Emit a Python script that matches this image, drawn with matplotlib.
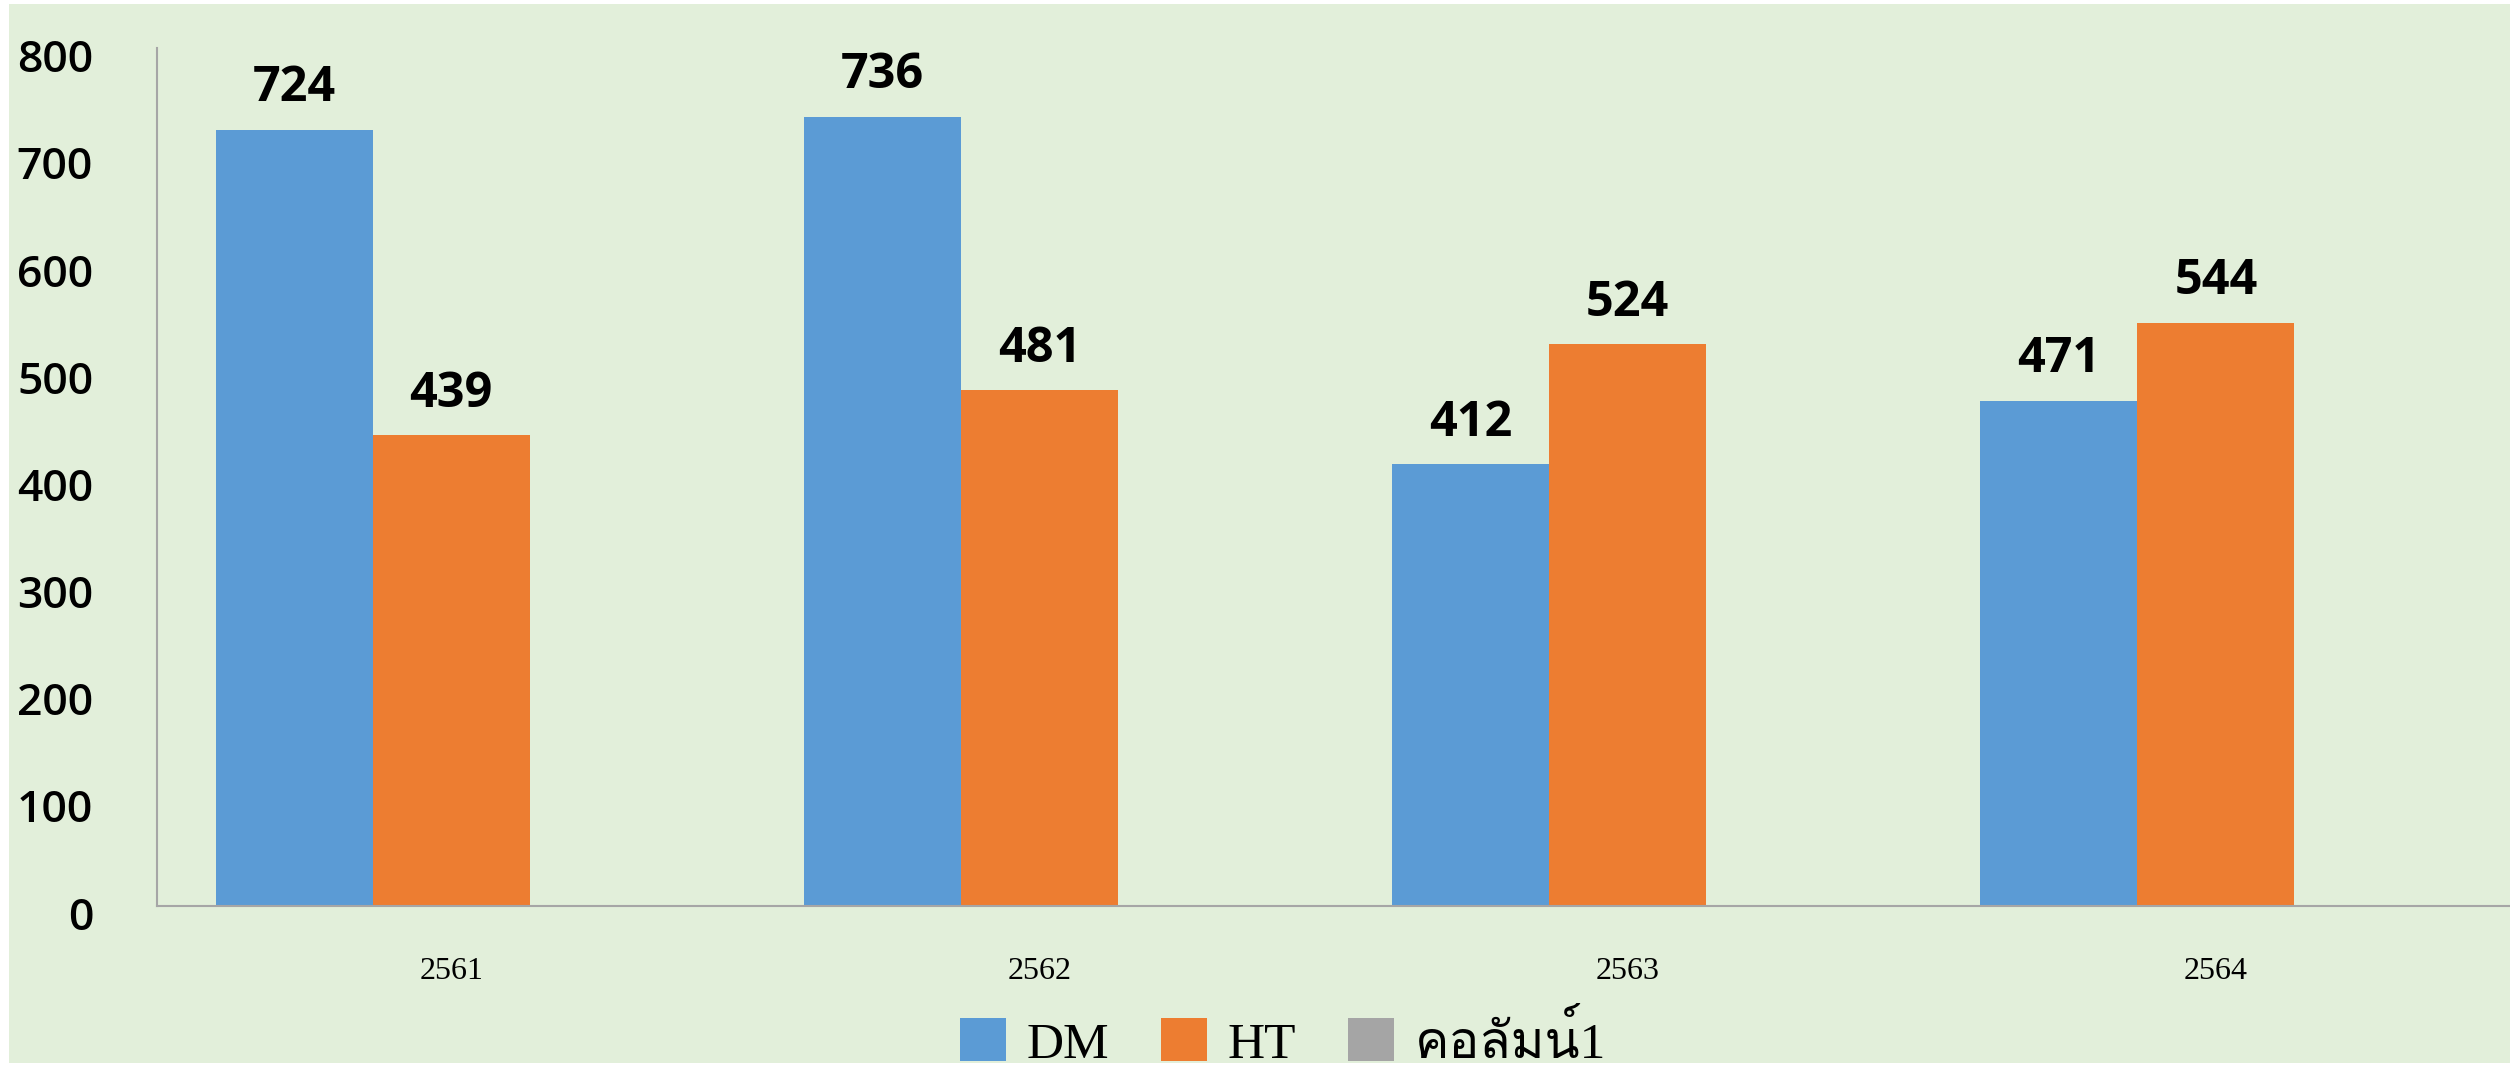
import matplotlib
matplotlib.use("Agg")
import matplotlib.pyplot as plt
from matplotlib import font_manager
from matplotlib.ft2font import FT2Font
from matplotlib.patches import Rectangle
from matplotlib.transforms import ScaledTranslation
import numpy as np

years = ["2561", "2562", "2563", "2564"]
dm = [724, 736, 412, 471]
ht = [439, 481, 524, 544]
col1 = [np.nan, np.nan, np.nan, np.nan]   # empty column in the source sheet
series_names = ["DM", "HT", "คอลัมน์1"]
yticks = [0, 100, 200, 300, 400, 500, 600, 700, 800]

# find some installed font that has Thai glyphs for the legend
thai_family = None
for f in font_manager.fontManager.ttflist:
    try:
        if 0x0E04 in FT2Font(f.fname).get_charmap():
            thai_family = f.name
            break
    except Exception:
        pass
legend_family = ["Liberation Serif"] + ([thai_family] if thai_family else []) + ["DejaVu Sans"]

fig = plt.figure(figsize=(25.10, 10.65), dpi=100)
fig.patch.set_facecolor("white")
# green chart area (small white margin on the top/left)
fig.patches.append(Rectangle((9 / 2510, 2 / 1065), 1, 1 - 6 / 1065,
                             transform=fig.transFigure, facecolor="#E2EFDA",
                             edgecolor="none", zorder=-10))

ax = fig.add_axes([157 / 2510, 1 - 905.7 / 1065, 1 - 157 / 2510, (905.7 - 48.3) / 1065])
ax.set_facecolor("none")

x = np.arange(len(years))
w = 0.267
b1 = ax.bar(x - w, dm, w, color="#5B9BD5", label=series_names[0])
b2 = ax.bar(x, ht, w, color="#ED7D31", label=series_names[1])
b3 = ax.bar(x + w, col1, w, color="#A5A5A5", label=series_names[2])

for bars, vals in [(b1, dm), (b2, ht)]:
    for rect, v in zip(bars, vals):
        ax.annotate(str(v), (rect.get_x() + rect.get_width() / 2, v),
                    xytext=(0, 20.5), textcoords="offset points",
                    ha="center", va="baseline", fontsize=35,
                    fontfamily="Open Sans", fontweight="bold", color="black")

ax.set_xlim(-0.5, 3.5)
ax.set_ylim(0, 800)
ax.set_yticks(yticks)
ax.set_yticklabels([str(t) for t in yticks], fontfamily="Open Sans", fontsize=32,
                   fontweight="semibold")
ax.set_xticks(x)
ax.set_xticklabels(years, fontfamily="Liberation Serif", fontsize=23)
ax.tick_params(axis="y", length=0, pad=46)
ax.tick_params(axis="x", length=0, pad=37)

# the y labels sit a bit lower than their gridline positions in the original
for lab in ax.get_yticklabels():
    lab.set_transform(lab.get_transform() + ScaledTranslation(0, -0.074, fig.dpi_scale_trans))

for s in ["top", "right"]:
    ax.spines[s].set_visible(False)
for s in ["left", "bottom"]:
    ax.spines[s].set_color("#A6A6A6")
    ax.spines[s].set_linewidth(1.5)

ax.legend(handles=[b1, b2, b3], loc="center", bbox_to_anchor=(1283 / 2510, 1 - 1041 / 1065),
          bbox_transform=fig.transFigure, ncol=3, frameon=False,
          prop=font_manager.FontProperties(family=legend_family, size=37),
          handlelength=0.9, handleheight=0.9, handletextpad=0.4,
          columnspacing=1.0, borderpad=0, borderaxespad=0)

fig.savefig("out.png", dpi=100, facecolor=fig.get_facecolor())
